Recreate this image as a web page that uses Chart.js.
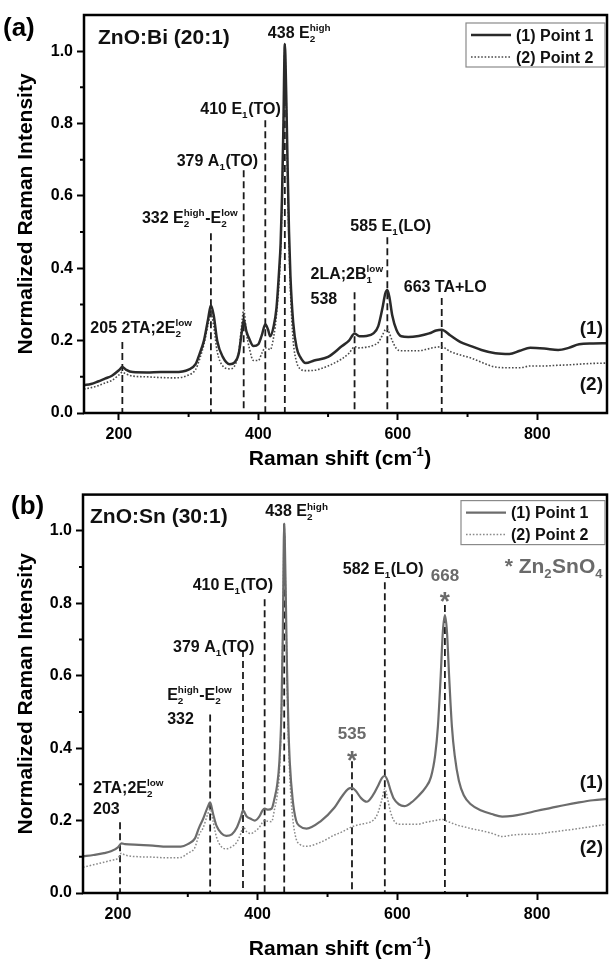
<!DOCTYPE html>
<html><head><meta charset="utf-8">
<script src="https://cdn.jsdelivr.net/npm/chart.js@4"></script>
<style>body{margin:0;background:#fff}.p{width:611px;height:481px;position:relative}canvas{display:block}</style>
</head><body>
<div class="p"><canvas id="ca" width="611" height="481"></canvas></div>
<div class="p"><canvas id="cb" width="611" height="481"></canvas></div>
<script>
// ---------------- DATA ----------------
const seriesNames = ['(1) Point 1', '(2) Point 2'];
const xTicks = [200, 400, 600, 800];
const xMinorTicks = [300, 500, 700];
const yTicks = [0, 0.2, 0.4, 0.6, 0.8, 1.0];
const yMinorTicks = [0.1, 0.3, 0.5, 0.7, 0.9];

// Panel (a) ZnO:Bi (20:1)
const shiftA = [150,160,170,180,190,200,205,210,220,240,260,280,300,310,316,322,328,332,336,341,349,359,366,372,376,379,383,387,393,400,405,410,414,417,422,426,430,432,434,436,438,440,442,444,446,450,455,460,468,480,500,520,530,538,545,555,565,572,578,582,585,588,592,598,605,615,630,645,655,663,675,690,705,720,740,760,775,790,810,830,845,860,880,900];
const point1A = [0.077,0.080,0.087,0.095,0.103,0.118,0.127,0.120,0.113,0.112,0.113,0.113,0.120,0.135,0.165,0.200,0.260,0.298,0.270,0.200,0.155,0.135,0.140,0.165,0.220,0.257,0.225,0.205,0.185,0.190,0.215,0.245,0.230,0.212,0.240,0.290,0.400,0.470,0.600,0.800,1.020,0.880,0.680,0.500,0.380,0.250,0.180,0.155,0.138,0.145,0.155,0.185,0.200,0.220,0.212,0.213,0.220,0.240,0.290,0.330,0.340,0.320,0.270,0.230,0.212,0.210,0.213,0.220,0.228,0.230,0.215,0.196,0.185,0.174,0.165,0.163,0.172,0.180,0.178,0.174,0.180,0.190,0.192,0.193];
const point2A = [0.066,0.070,0.075,0.083,0.090,0.105,0.113,0.108,0.102,0.100,0.098,0.097,0.105,0.120,0.150,0.190,0.245,0.275,0.240,0.170,0.130,0.122,0.130,0.170,0.240,0.285,0.220,0.180,0.145,0.145,0.165,0.180,0.178,0.175,0.210,0.270,0.370,0.450,0.580,0.780,1.000,0.860,0.650,0.470,0.340,0.200,0.140,0.122,0.117,0.118,0.130,0.150,0.165,0.183,0.180,0.182,0.187,0.195,0.215,0.230,0.232,0.220,0.200,0.178,0.172,0.172,0.172,0.178,0.182,0.183,0.170,0.160,0.152,0.140,0.127,0.125,0.125,0.130,0.130,0.132,0.133,0.135,0.137,0.138];
const peaksA = [205, 332, 379, 410, 438, 538, 585, 663];
const peakTopsA = [0.196, 0.497, 0.671, 0.809, 1.02, 0.334, 0.486, 0.318];
const peakLabelsA = [
  ['205 2TA;2E_{2}^{low}'],
  ['332 E_{2}^{high}-E_{2}^{low}'],
  ['379 A_{1}(TO)'],
  ['410 E_{1}(TO)'],
  ['438 E_{2}^{high}'],
  ['2LA;2B_{1}^{low}', '538'],
  ['585 E_{1}(LO)'],
  ['663 TA+LO']
];

// Panel (b) ZnO:Sn (30:1)
const shiftB = [150,165,180,190,200,205,210,230,250,270,290,300,310,316,322,328,332,336,341,348,355,363,370,376,379,384,390,396,402,407,410,415,420,424,428,431,434,436,438,440,442,444,446,450,455,460,470,490,510,520,530,535,540,548,556,565,572,578,582,586,590,595,602,610,620,630,640,648,654,658,662,665,668,671,674,678,682,688,695,705,720,735,750,765,780,800,820,840,860,880,900];
const point1B = [0.101,0.105,0.110,0.115,0.126,0.137,0.135,0.133,0.131,0.128,0.128,0.135,0.150,0.180,0.205,0.235,0.250,0.220,0.186,0.165,0.158,0.162,0.180,0.210,0.228,0.212,0.205,0.200,0.210,0.228,0.233,0.230,0.233,0.260,0.300,0.360,0.500,0.720,1.020,0.850,0.620,0.460,0.360,0.260,0.200,0.185,0.178,0.198,0.236,0.265,0.288,0.290,0.283,0.262,0.252,0.270,0.295,0.318,0.323,0.310,0.285,0.260,0.245,0.240,0.250,0.268,0.290,0.320,0.380,0.460,0.600,0.720,0.767,0.720,0.600,0.460,0.380,0.310,0.270,0.245,0.228,0.218,0.211,0.213,0.218,0.227,0.235,0.243,0.250,0.256,0.260];
const point2B = [0.071,0.078,0.085,0.090,0.096,0.110,0.105,0.100,0.099,0.097,0.098,0.110,0.125,0.160,0.180,0.215,0.232,0.200,0.155,0.128,0.122,0.128,0.140,0.165,0.183,0.170,0.164,0.170,0.180,0.195,0.200,0.198,0.197,0.230,0.270,0.330,0.500,0.720,1.000,0.830,0.600,0.430,0.320,0.210,0.150,0.135,0.129,0.140,0.160,0.168,0.178,0.183,0.186,0.190,0.193,0.200,0.220,0.260,0.288,0.260,0.225,0.200,0.190,0.190,0.190,0.190,0.195,0.198,0.200,0.202,0.203,0.203,0.200,0.198,0.196,0.193,0.190,0.186,0.183,0.178,0.172,0.165,0.156,0.160,0.162,0.163,0.168,0.173,0.178,0.184,0.190];
const peaksB = [203, 332, 379, 410, 438, 535, 582, 668];
const peakTopsB = [0.195, 0.493, 0.671, 0.811, 1.02, 0.364, 0.858, 0.795];
const peakLabelsB = [
  ['2TA;2E_{2}^{low}', '203'],
  ['E_{2}^{high}-E_{2}^{low}', '332'],
  ['379 A_{1}(TO)'],
  ['410 E_{1}(TO)'],
  ['438 E_{2}^{high}'],
  ['535', '*'],
  ['582 E_{1}(LO)'],
  ['668', '*']
];

// ---------------- RENDER ----------------
const FAM = '"Liberation Sans", Arial, Helvetica, sans-serif';
Chart.defaults.font.family = FAM;
Chart.defaults.font.weight = 'bold';
Chart.defaults.color = '#000';
const F = sz => `bold ${sz}px ${FAM}`;

function parseRich(s){
  const re=/_\{([^}]*)\}\^\{([^}]*)\}|\^\{([^}]*)\}|_\{([^}]*)\}/g;
  const out=[]; let last=0, m;
  while((m=re.exec(s))){
    if(m.index>last) out.push({n:s.slice(last,m.index)});
    if(m[1]!==undefined) out.push({sub:m[1],sup:m[2]});
    else if(m[3]!==undefined) out.push({sup:m[3]});
    else out.push({sub:m[4]});
    last=re.lastIndex;
  }
  if(last<s.length) out.push({n:s.slice(last)});
  return out;
}
function drawRich(ctx,s,x,cy,size,align,color){
  const toks=parseRich(s), ss=size*0.62, ws=[]; let w=0;
  toks.forEach(t=>{
    let tw;
    if(t.n!==undefined){ctx.font=F(size);tw=ctx.measureText(t.n).width;}
    else {ctx.font=F(ss);tw=Math.max(t.sub?ctx.measureText(t.sub).width:0,t.sup?ctx.measureText(t.sup).width:0)+0.5;}
    ws.push(tw); w+=tw;
  });
  let px = align==='center'? x-w/2 : align==='right'? x-w : x;
  let base = cy + size*0.36;
  if(s==='*') base = cy + size*0.58;
  ctx.save();
  ctx.fillStyle=color; ctx.textBaseline='alphabetic'; ctx.textAlign='left';
  toks.forEach((t,i)=>{
    if(t.n!==undefined){ctx.font=F(size);ctx.fillText(t.n,px,base);}
    else {ctx.font=F(ss); if(t.sub) ctx.fillText(t.sub,px,base+size*0.24); if(t.sup) ctx.fillText(t.sup,px,base-size*0.42);}
    px+=ws[i];
  });
  ctx.restore();
}

function decoPlugin(P){
  return {
    id:'deco',
    afterDraw(chart){
      const ctx=chart.ctx, a=chart.chartArea, xs=chart.scales.x, ys=chart.scales.y;
      ctx.save();
      // frame
      ctx.strokeStyle='#000'; ctx.lineWidth=2.5;
      ctx.strokeRect(a.left, a.top, a.right-a.left, a.bottom-a.top);
      // minor ticks
      ctx.lineWidth=2;
      ctx.beginPath();
      xMinorTicks.forEach(v=>{const px=xs.getPixelForValue(v); ctx.moveTo(px,a.bottom); ctx.lineTo(px,a.bottom+4);});
      yMinorTicks.forEach(v=>{const py=ys.getPixelForValue(v); ctx.moveTo(a.left,py); ctx.lineTo(a.left-4,py);});
      ctx.stroke();
      // peak labels
      P.labels.forEach((lines,i)=>{
        const px=xs.getPixelForValue(P.peaks[i]), py=ys.getPixelForValue(P.tops[i]);
        lines.forEach((txt,j)=>{
          const L=P.layout[i][j];
          drawRich(ctx,txt,px+(L.dx||0),py+L.dy,L.size||16,L.align||'left',L.color||'#111');
        });
      });
      // sample title
      drawRich(ctx,P.title,a.left+P.titleDx,a.top+21,21,'left','#111');
      // panel letter
      drawRich(ctx,P.letter,P.letterX,P.letterY,26,'left','#000');
      // (1)/(2)
      drawRich(ctx,'(1)',a.right-4,ys.getPixelForValue(P.tag1),19,'right','#111');
      drawRich(ctx,'(2)',a.right-4,ys.getPixelForValue(P.tag2),19,'right','#111');
      // extra
      if(P.extra) drawRich(ctx,P.extra,a.right-4,a.top+71,21,'right','#6a6a6a');
      // x title
      drawRich(ctx,'Raman shift (cm^{-1})',340,a.bottom+P.xTitleDy,21,'center','#000');
      // legend
      const bw=P.legW, bx=a.right-2-bw, by=a.top+P.legTop;
      ctx.fillStyle='#fff'; ctx.fillRect(bx,by,bw,44);
      ctx.strokeStyle='#8a8a8a'; ctx.lineWidth=1.2; ctx.strokeRect(bx,by,bw,44);
      [0,1].forEach(k=>{
        const d=chart.data.datasets[k], ry=by+12+22*k;
        ctx.strokeStyle=d.borderColor; ctx.lineWidth=d.borderWidth;
        ctx.setLineDash(d.borderDash||[]);
        ctx.beginPath(); ctx.moveTo(bx+5,ry); ctx.lineTo(bx+45,ry); ctx.stroke();
        ctx.setLineDash([]);
        drawRich(ctx,d.label,bx+50,ry,16,'left','#111');
      });
      ctx.restore();
    }
  };
}

function makeChart(id,P){
  const ds=[
    {label:seriesNames[0],data:P.xs.map((x,i)=>({x,y:P.s1[i]})),borderColor:P.c1,borderWidth:P.w1,pointRadius:0,cubicInterpolationMode:'monotone',fill:false},
    {label:seriesNames[1],data:P.xs.map((x,i)=>({x,y:P.s2[i]})),borderColor:P.c2,borderWidth:P.w2,borderDash:[1.6,1.8],pointRadius:0,cubicInterpolationMode:'monotone',fill:false}
  ];
  P.peaks.forEach((p,i)=>ds.push({label:'peak '+p,data:[{x:p,y:P.tops[i]},{x:p,y:0}],borderColor:'#1a1a1a',borderWidth:1.8,borderDash:[7,4],pointRadius:0,fill:false}));
  return new Chart(document.getElementById(id),{
    type:'line',
    data:{datasets:ds},
    options:{
      responsive:false, animation:false, devicePixelRatio:1,
      layout:{padding:{top:P.padTop,right:4,left:0,bottom:0}},
      plugins:{legend:{display:false},tooltip:{enabled:false}},
      scales:{
        x:{type:'linear',min:150,max:900,
          afterBuildTicks:s=>{s.ticks=xTicks.map(v=>({value:v}));},
          afterFit:s=>{s.height=P.xH;},
          grid:{display:true,drawOnChartArea:false,drawTicks:true,tickLength:7,tickWidth:2,tickColor:'#000'},
          border:{display:false},
          ticks:{font:{size:16,weight:'bold'},color:'#000',padding:5,maxRotation:0}},
        y:{type:'linear',min:0,max:1.1,
          afterBuildTicks:s=>{s.ticks=yTicks.map(v=>({value:v}));},
          afterFit:s=>{s.width=P.yW;},
          grid:{display:true,drawOnChartArea:false,drawTicks:true,tickLength:7,tickWidth:2,tickColor:'#000'},
          border:{display:false},
          ticks:{font:{size:16,weight:'bold'},color:'#000',padding:4,callback:v=>Number(v).toFixed(1)},
          title:{display:true,text:'Normalized Raman Intensity',font:{size:21,weight:'bold'},color:'#000',padding:{top:14,bottom:0}}}
      }
    },
    plugins:[decoPlugin(P)]
  });
}

makeChart('ca',{
  xs:shiftA,s1:point1A,s2:point2A,c1:'#2a2a2a',w1:2.5,c2:'#4a4a4a',w2:1.6,
  peaks:peaksA,tops:peakTopsA,labels:peakLabelsA,
  layout:[[{dx:-32,dy:-15}],[{dx:-69,dy:-16}],[{dx:-67,dy:-10}],[{dx:-65,dy:-12}],[{dx:-17,dy:-12}],
          [{dx:-44,dy:-19},{dx:-44,dy:6}],[{dx:-37,dy:-12}],[{dx:-38,dy:-12}]],
  padTop:15,xH:68,yW:84,title:'ZnO:Bi (20:1)',titleDx:14,letter:'(a)',letterX:3,letterY:27,
  tag1:0.238,tag2:0.083,xTitleDy:44,legW:139,legTop:8
});
makeChart('cb',{
  xs:shiftB,s1:point1B,s2:point2B,c1:'#6c6c6c',w1:2.2,c2:'#8a8a8a',w2:1.5,
  peaks:peaksB,tops:peakTopsB,labels:peakLabelsB,
  layout:[[{dx:-27,dy:-35},{dx:-27,dy:-14}],[{dx:-43,dy:-20},{dx:-43,dy:4}],[{dx:-70,dy:-4}],[{dx:-72,dy:-15}],[{dx:-19,dy:-13}],
          [{dy:-28,align:'center',color:'#6a6a6a',size:17},{dy:-7,align:'center',color:'#6a6a6a',size:26}],
          [{dx:-42,dy:-14}],
          [{dy:-30,align:'center',color:'#6a6a6a',size:17},{dy:-10,align:'center',color:'#6a6a6a',size:26}]],
  padTop:11,xH:69,yW:83,title:'ZnO:Sn (30:1)',titleDx:7,letter:'(b)',letterX:11,letterY:24,
  tag1:0.31,tag2:0.13,xTitleDy:54,legW:144,legTop:6,extra:'* Zn_{2}SnO_{4}'
});
</script>
</body></html>
